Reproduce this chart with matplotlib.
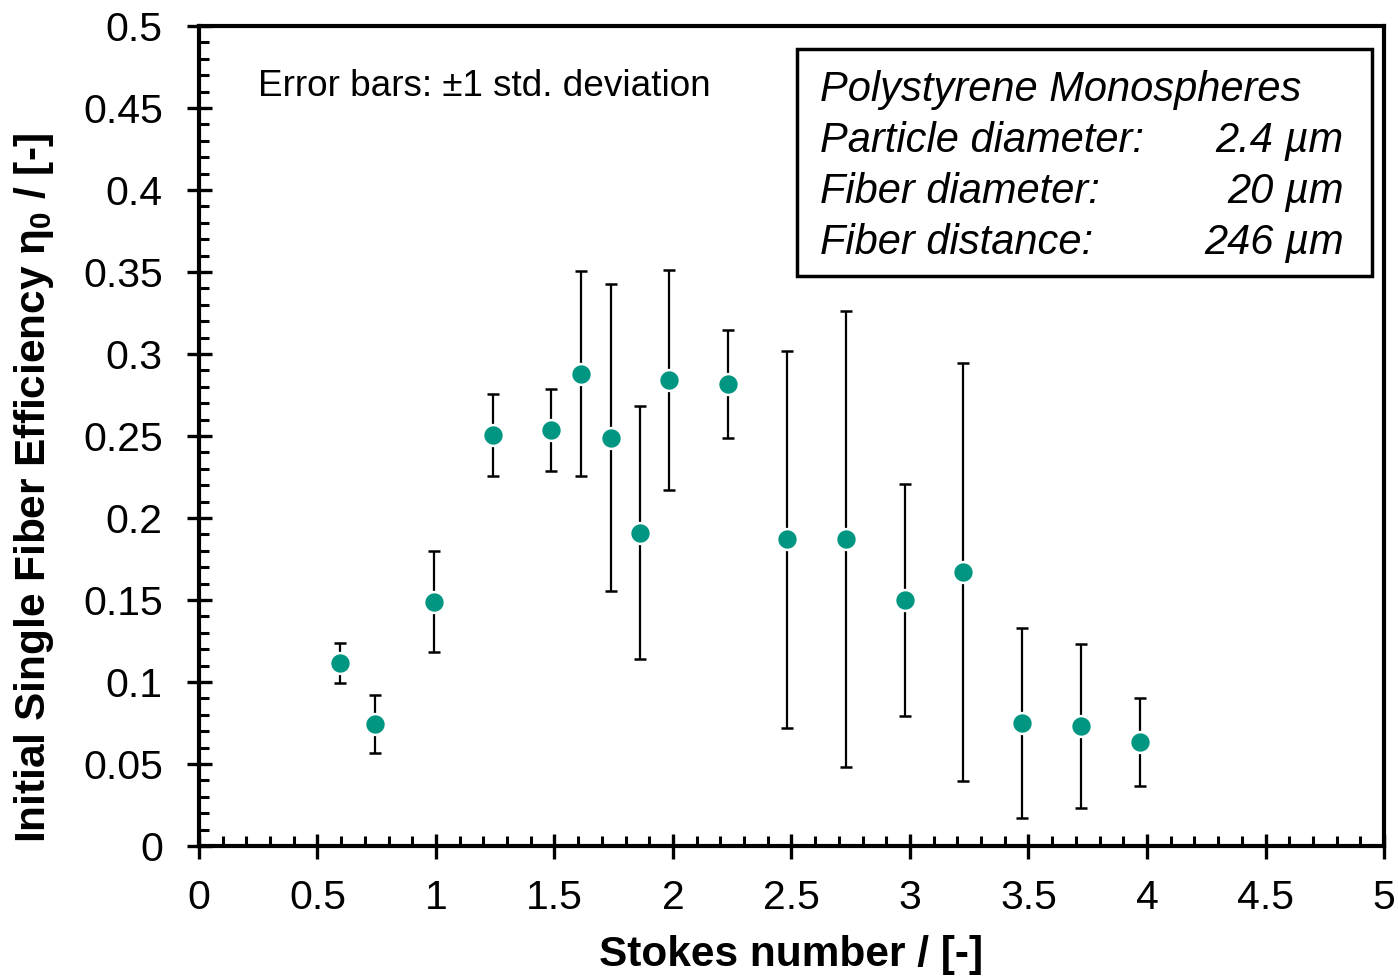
import numpy as np
import matplotlib.pyplot as plt
from matplotlib.ticker import MultipleLocator

plt.rcParams['font.family'] = ['Liberation Sans', 'DejaVu Sans']
plt.rcParams['mathtext.fontset'] = 'custom'
plt.rcParams['mathtext.rm'] = 'Liberation Sans'
plt.rcParams['mathtext.bf'] = 'Liberation Sans:bold'

# data
stokes = [0.595, 0.743, 0.99, 1.24, 1.485, 1.61, 1.738, 1.86, 1.983, 2.232,
          2.48, 2.73, 2.98, 3.224, 3.473, 3.72, 3.97]
eta0 = [0.1116, 0.0744, 0.149, 0.2506, 0.2537, 0.288, 0.249, 0.191, 0.284, 0.2817,
        0.187, 0.187, 0.150, 0.167, 0.075, 0.0732, 0.0634]
std = [0.012, 0.0175, 0.031, 0.025, 0.025, 0.0625, 0.0935, 0.077, 0.067, 0.033,
       0.115, 0.139, 0.0705, 0.1275, 0.058, 0.050, 0.027]

info_keys = ["Particle diameter:", "Fiber diameter:", "Fiber distance:"]
info_vals = ["2.4 µm", "20 µm", "246 µm"]

teal = "#009682"

fig = plt.figure(figsize=(13.98, 9.76), dpi=100)
ax = fig.add_axes([0.1423, 0.1332, 0.8477, 0.8402])

ax.errorbar(stokes, eta0, yerr=std, fmt='o', color=teal, ms=15, mec='white', mew=1.8,
            ecolor='black', elinewidth=1.6, capsize=4.3, capthick=1.6, zorder=3)

ax.set_xlim(0, 5)
ax.set_ylim(0, 0.5)
ax.xaxis.set_major_locator(MultipleLocator(0.5))
ax.xaxis.set_minor_locator(MultipleLocator(0.1))
ax.yaxis.set_major_locator(MultipleLocator(0.05))
ax.yaxis.set_minor_locator(MultipleLocator(0.01))
ax.xaxis.set_major_formatter(plt.FuncFormatter(lambda v, p: f"{v:g}"))
ax.yaxis.set_major_formatter(plt.FuncFormatter(lambda v, p: f"{v:g}"))

for s in ax.spines.values():
    s.set_linewidth(3)
ax.tick_params(which='major', direction='inout', length=18, width=2.4, labelsize=29.5)
ax.tick_params(which='minor', direction='in', length=7, width=2.2)
ax.tick_params(axis='x', pad=15)
ax.tick_params(axis='y', pad=17)

ax.set_xlabel("Stokes number / [-]", fontsize=30.5, fontweight='bold', labelpad=13)
ax.set_ylabel(r"Initial Single Fiber Efficiency η$_\mathbf{0}$ / [-]", fontsize=30.5,
              fontweight='bold')
ax.yaxis.set_label_coords(-0.121, 0.436)

ax.text(0.05, 0.926, "Error bars: ±1 std. deviation", transform=ax.transAxes,
        fontsize=26.6, ha='left', va='center')

# info box
ax.add_patch(plt.Rectangle((0.505, 0.695), 0.485, 0.277, transform=ax.transAxes,
                           fill=False, lw=2.5, ec='black', zorder=4))
ax.text(0.524, 0.922, "Polystyrene Monospheres", transform=ax.transAxes,
        fontsize=30, style='italic', ha='left', va='center')
for i, (k, v) in enumerate(zip(info_keys, info_vals)):
    yy = 0.860 - i * 0.0625
    ax.text(0.524, yy, k, transform=ax.transAxes, fontsize=30, style='italic',
            ha='left', va='center')
    ax.text(0.966, yy, v, transform=ax.transAxes, fontsize=30, style='italic',
            ha='right', va='center')

fig.savefig("out.png", dpi=100)
